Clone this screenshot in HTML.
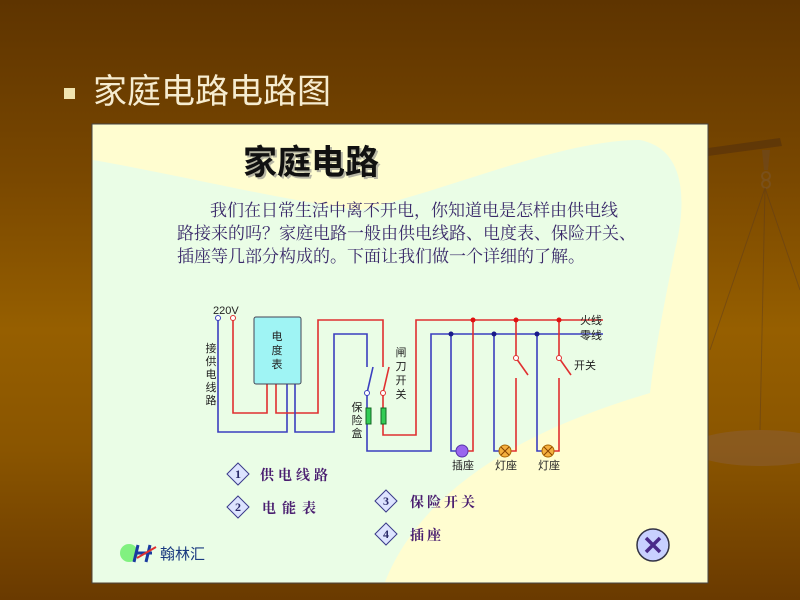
<!DOCTYPE html>
<html><head><meta charset="utf-8"><style>
body{margin:0;width:800px;height:600px;overflow:hidden;font-family:"Liberation Sans","Noto Sans CJK SC",sans-serif;}
#bg{position:absolute;left:0;top:0;width:800px;height:600px;background:linear-gradient(180deg,#5e3400 0%,#7a4800 30%,#965f00 55%,#8a5500 75%,#6a3a00 100%);}
</style></head><body>
<div id="bg"></div>
<svg width="800" height="600" style="position:absolute;left:0;top:0" font-family="Liberation Sans, Noto Sans CJK SC, sans-serif">
<g opacity="0.45">
<path d="M708 148 L780 138 L782 146 L708 156Z" fill="#4a2a10"/>
<path d="M762 150 L770 150 L768 170 L764 170Z" fill="#6a4a30"/>
<circle cx="766" cy="176" r="4" fill="none" stroke="#7a5a3a" stroke-width="2"/>
<circle cx="766" cy="184" r="4" fill="none" stroke="#7a5a3a" stroke-width="2"/>
<line x1="765" y1="188" x2="760" y2="430" stroke="#5a3a20"/>
<line x1="765" y1="188" x2="710" y2="350" stroke="#5a3a20"/>
<line x1="765" y1="188" x2="800" y2="290" stroke="#5a3a20"/>
<ellipse cx="760" cy="448" rx="70" ry="18" fill="#8a6040"/>
</g>
<rect x="64" y="88" width="11" height="11" fill="#f0e4b0"/>
<text x="93" y="103" font-size="34" fill="#f6ecd0">家庭电路电路图</text>
<rect x="92" y="124" width="616" height="459" fill="#fffdd0" stroke="#444" stroke-width="1"/>
<path d="M93 160 C180 175 280 200 360 210 C450 190 560 140 640 140 C690 150 685 210 675 250 C665 300 655 350 650 393 C560 420 430 470 385 582 L93 582Z" fill="#eafde6"/>
<text x="245" y="176" font-size="34" font-weight="bold" fill="#888" opacity="0.6">家庭电路</text>
<text x="243" y="174" font-size="34" font-weight="bold" fill="#111">家庭电路</text>
<g font-size="17" fill="#3a2a6a" font-family="Liberation Serif, Noto Serif CJK SC, serif">
<text x="210" y="216">我们在日常生活中离不开电，你知道电是怎样由供电线</text>
<text x="177" y="239">路接来的吗？家庭电路一般由供电线路、电度表、保险开关、</text>
<text x="177" y="262">插座等几部分构成的。下面让我们做一个详细的了解。</text>
</g>
<g fill="none" stroke-width="1.6">
<path d="M218 318 V432 H287 V384" stroke="#3b3fbf"/>
<path d="M233 318 V413 H267 V384" stroke="#e03030"/>
<path d="M276 384 V413 H318 V320 H383 V367" stroke="#e03030"/>
<path d="M295 384 V432 H334 V334 H367 V367" stroke="#3b3fbf"/>
<path d="M367 393 L373 367" stroke="#3b3fbf"/>
<path d="M383 393 L389 367" stroke="#e03030"/>
<path d="M367 393 V451 H431 V334 H603" stroke="#3b3fbf"/>
<path d="M383 393 V435 H416 V320 H603" stroke="#e03030"/>
<path d="M451 334 V451 H462" stroke="#3b3fbf"/>
<path d="M473 320 V451 H462" stroke="#e03030"/>
<path d="M494 334 V451 H505" stroke="#3b3fbf"/>
<path d="M516 320 V358 L528 375 M516 378 V451 H505" stroke="#e03030"/>
<path d="M537 334 V451 H548" stroke="#3b3fbf"/>
<path d="M559 320 V358 L571 375 M559 378 V451 H548" stroke="#e03030"/>
</g>
<circle cx="218" cy="318" r="2.5" fill="#fff" stroke="#3b3fbf"/>
<circle cx="233" cy="318" r="2.5" fill="#fff" stroke="#e03030"/>
<circle cx="367" cy="393" r="2.5" fill="#fff" stroke="#3b3fbf"/>
<circle cx="383" cy="393" r="2.5" fill="#fff" stroke="#e03030"/>
<circle cx="516" cy="358" r="2.5" fill="#fff" stroke="#e03030"/>
<circle cx="559" cy="358" r="2.5" fill="#fff" stroke="#e03030"/>
<rect x="366" y="408" width="5" height="16" fill="#33cc55" stroke="#116622"/>
<rect x="381" y="408" width="5" height="16" fill="#33cc55" stroke="#116622"/>
<g fill="#e01010"><circle cx="473" cy="320" r="2.5"/><circle cx="516" cy="320" r="2.5"/><circle cx="559" cy="320" r="2.5"/></g>
<g fill="#1a1a8a"><circle cx="451" cy="334" r="2.5"/><circle cx="494" cy="334" r="2.5"/><circle cx="537" cy="334" r="2.5"/></g>
<circle cx="462" cy="451" r="6" fill="#9966ee" stroke="#5533aa"/>
<circle cx="505" cy="451" r="6" fill="#f5b040" stroke="#aa6600"/><path d="M501 447 L509 455 M509 447 L501 455" stroke="#884400"/>
<circle cx="548" cy="451" r="6" fill="#f5b040" stroke="#aa6600"/><path d="M544 447 L552 455 M552 447 L544 455" stroke="#884400"/>
<rect x="254" y="317" width="47" height="67" rx="2" fill="#9ff4f4" stroke="#445"/>
<g font-size="11" fill="#222" text-anchor="middle">
<text x="277" y="340">电</text><text x="277" y="354">度</text><text x="277" y="368">表</text>
<text x="211" y="352">接</text><text x="211" y="365">供</text><text x="211" y="378">电</text><text x="211" y="391">线</text><text x="211" y="404">路</text>
<text x="357" y="411">保</text><text x="357" y="424">险</text><text x="357" y="437">盒</text>
<text x="401" y="356">闸</text><text x="401" y="370">刀</text><text x="401" y="384">开</text><text x="401" y="398">关</text>
</g>
<g font-size="11" fill="#222">
<text x="213" y="314">220V</text>
<text x="580" y="324">火线</text><text x="580" y="339">零线</text><text x="574" y="369">开关</text>
<text x="452" y="469">插座</text><text x="495" y="469">灯座</text><text x="538" y="469">灯座</text>
</g>
<g font-size="14" font-weight="bold" fill="#4a1e70" font-family="Liberation Serif, Noto Serif CJK SC, serif">
<g stroke="#3a3a8a" fill="#dde4ff">
<path d="M238 463 L249 474 L238 485 L227 474Z"/><path d="M238 496 L249 507 L238 518 L227 507Z"/>
<path d="M386 490 L397 501 L386 512 L375 501Z"/><path d="M386 523 L397 534 L386 545 L375 534Z"/>
</g>
<g text-anchor="middle" fill="#2a2a6a" font-size="12"><text x="238" y="478">1</text><text x="238" y="511">2</text><text x="386" y="505">3</text><text x="386" y="538">4</text></g>
<text x="260" y="480" letter-spacing="4">供电线路</text>
<text x="262" y="513" letter-spacing="6">电能表</text>
<text x="410" y="507" letter-spacing="3">保险开关</text>
<text x="410" y="540" letter-spacing="3">插座</text>
</g>
<circle cx="129" cy="553" r="9" fill="#66ee66" opacity="0.8"/>
<path d="M138 545 L134 562 M150 545 L146 562 M136 553 L152 553" stroke="#1a3aa0" stroke-width="3"/>
<path d="M137 558 L156 547" stroke="#e03030" stroke-width="2"/>
<text x="160" y="559" font-size="15" fill="#1a3a80">翰林汇</text>
<circle cx="653" cy="545" r="16" fill="#c8d0ff" stroke="#334" stroke-width="1.5"/>
<path d="M646 538 L660 552 M660 538 L646 552" stroke="#4a2a8a" stroke-width="3.5"/>
</svg>
</body></html>
